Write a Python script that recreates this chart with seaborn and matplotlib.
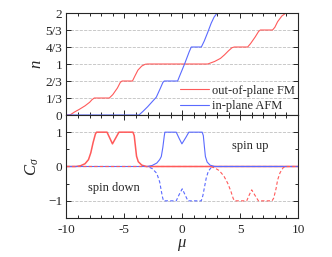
import matplotlib
matplotlib.use("Agg")
import matplotlib.pyplot as plt
import seaborn as sns
from matplotlib.ticker import MultipleLocator, FixedLocator

# filling number n vs chemical potential mu
fm_n_mu = [-10, -9.7, -9.3, -8.9, -8.4, -8.0, -7.8, -7.6, -6.3, -6.0, -5.6, -5.35, -5.2, -4.3, -4.1, -3.83, -3.5, -3.2, -3.0,
           2.2, 2.8, 3.3, 3.65, 4.0, 4.3, 4.5, 5.65, 5.9, 6.3, 6.6, 6.75, 7.8, 8.0, 8.24, 8.6, 8.9, 9.1, 10]
fm_n = [0, 0, 0.06, 0.11, 0.18, 0.25, 0.3, 1/3, 1/3, 0.4, 0.53, 0.64, 2/3, 2/3, 0.76, 0.88, 0.96, 0.995, 1,
        1, 1.05, 1.11, 1.18, 1.26, 1.32, 4/3, 4/3, 1.4, 1.53, 1.64, 5/3, 5/3, 1.72, 1.83, 1.94, 1.99, 2, 2]

afm_n_mu = [-10, -3.74, -3.4, -3.0, -2.6, -2.24, -1.9, -1.67, -1.55, -0.4, -0.2, 0.2, 0.6, 0.78, 0.9,
            1.65, 1.9, 2.2, 2.5, 2.75, 2.95, 3.1, 10]
afm_n = [0, 0, 0.07, 0.16, 0.26, 0.35, 0.52, 0.64, 2/3, 2/3, 0.78, 1.0, 1.24, 4/3, 4/3,
         4/3, 1.45, 1.62, 1.8, 1.92, 1.98, 2, 2]

# Chern numbers per spin
fm_up_mu = [-10, -9.2, -8.8, -8.4, -8.1, -7.9, -7.7, -7.5, -7.4, -6.5, -6.25, -6.03, -5.75, -5.47,
            -4.26, -4.15, -4.05, -3.95, -3.8, -3.5, -3.1, 10]
fm_up = [0, 0, 0.02, 0.08, 0.2, 0.4, 0.7, 0.95, 1, 1, 0.82, 0.66, 0.83, 1,
         1, 0.9, 0.6, 0.3, 0.14, 0.04, 0, 0]

fm_dn_mu = [-10, 2.4, 2.8, 3.2, 3.6, 3.93, 4.2, 4.4, 4.51, 5.57, 5.8, 6.0, 6.3, 6.58,
            7.76, 7.9, 8.1, 8.24, 8.45, 8.73, 8.97, 10]
fm_dn = [0, 0, -0.04, -0.12, -0.28, -0.49, -0.72, -0.93, -1, -1, -0.82, -0.68, -0.85, -1,
         -1, -0.92, -0.65, -0.39, -0.18, -0.03, 0, 0]

afm_up_mu = [-10, -3.0, -2.6, -2.2, -1.95, -1.81, -1.68, -1.55, -1.5, -0.52, -0.27, -0.03, 0.3, 0.57,
             1.72, 1.82, 1.92, 2.0, 2.15, 2.4, 2.79, 10]
afm_up = [0, 0, 0.03, 0.1, 0.2, 0.29, 0.55, 0.9, 1, 1, 0.82, 0.66, 0.84, 1,
          1, 0.9, 0.55, 0.29, 0.13, 0.04, 0, 0]

afm_dn_mu = [-10, -3.0, -2.6, -2.2, -1.95, -1.8, -1.7, -1.62, -0.52, -0.27, 0.0, 0.25, 0.49,
             1.64, 1.78, 1.95, 2.07, 2.25, 2.5, 2.7, 10]
afm_dn = [0, 0, -0.06, -0.2, -0.45, -0.73, -0.9, -1, -1, -0.82, -0.65, -0.83, -1,
          -1, -0.85, -0.55, -0.34, -0.14, -0.03, 0, 0]

red = "#ff5a5a"
blue = "#5a6aff"

sns.set_style("ticks")
plt.rcParams['font.family'] = ['Liberation Serif', 'DejaVu Serif']
plt.rcParams['mathtext.fontset'] = 'custom'
plt.rcParams['mathtext.rm'] = 'Liberation Serif'
plt.rcParams['mathtext.it'] = 'Liberation Serif:italic'

fig = plt.figure(figsize=(3.32, 2.57), dpi=100)
ax1 = fig.add_axes([0.2003, 0.5525, 0.6973, 0.3969])
ax2 = fig.add_axes([0.2003, 0.1518, 0.6973, 0.4007])

sns.lineplot(x=fm_n_mu, y=fm_n, ax=ax1, color=red, lw=0.8, label="out-of-plane FM")
sns.lineplot(x=afm_n_mu, y=afm_n, ax=ax1, color=blue, lw=0.8, label="in-plane AFM")

sns.lineplot(x=fm_up_mu, y=fm_up, ax=ax2, color=red, lw=1.1)
sns.lineplot(x=afm_dn_mu, y=afm_dn, ax=ax2, color=blue, lw=0.8, linestyle=(0, (3, 2)))
sns.lineplot(x=afm_up_mu, y=afm_up, ax=ax2, color=blue, lw=0.8)
sns.lineplot(x=fm_dn_mu, y=fm_dn, ax=ax2, color=red, lw=0.8, linestyle=(0, (3, 2)))

for ax in (ax1, ax2):
    ax.set_xlim(-10, 10)
    ax.xaxis.set_major_locator(MultipleLocator(5))
    ax.xaxis.set_minor_locator(MultipleLocator(1))
    ax.tick_params(which='both', direction='in', top=True, right=True, labelsize=9.5,
                   width=0.7)
    ax.tick_params(which='major', length=3.5)
    ax.tick_params(which='minor', length=2)
    ax.tick_params(axis='x', pad=4)
    ax.tick_params(axis='y', pad=3)
    ax.grid(axis='y', which='major', ls='--', color='#c0c0c0', lw=0.6)
    for s in ax.spines.values():
        s.set_linewidth(0.8)

ax1.set_ylim(0, 2)
ax1.yaxis.set_major_locator(FixedLocator([0, 1/3, 2/3, 1, 4/3, 5/3, 2]))
ax1.set_yticklabels(["0", "1/3", "2/3", "1", "4/3", "5/3", "2"])
ax1.tick_params(labelbottom=False)
ax1.set_ylabel("$n$", fontsize=12, labelpad=0)
ax1.set_xlabel("")
ax1.legend(loc="lower right", bbox_to_anchor=(1.0, 0.0), frameon=False, fontsize=9,
           handlelength=2.3, handletextpad=0.25, labelspacing=0.25,
           borderaxespad=0, borderpad=0.25)

ax2.set_ylim(-1.5, 1.5)
ax2.yaxis.set_major_locator(FixedLocator([-1, 0, 1]))
ax2.yaxis.set_minor_locator(MultipleLocator(0.5))
ax2.set_xticks([-10, -5, 0, 5, 10])
ax2.set_xticklabels(["-10", "-5", "0", "5", "10"])
ax2.set_ylabel(r"$C_\sigma$", fontsize=12, labelpad=5)
ax2.set_xlabel(r"$\mu$", fontsize=12, labelpad=1)
ax2.text(5.9, 0.6, "spin up", fontsize=9, ha="center", va="center")
ax2.text(-5.9, -0.62, "spin down", fontsize=9, ha="center", va="center")

fig.savefig("out.png", dpi=100)
